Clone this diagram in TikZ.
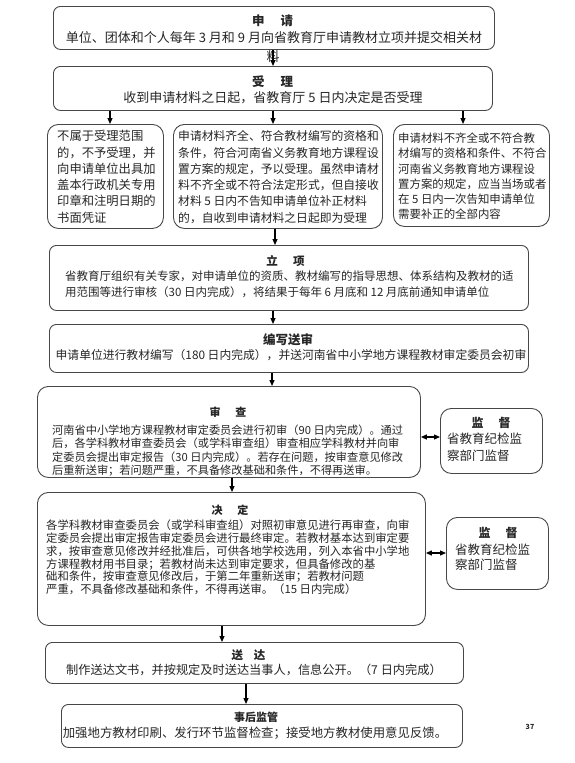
\documentclass[tikz,border=0pt]{standalone}
\usepackage{fontspec}
\setmainfont{Noto Sans CJK SC}
\usetikzlibrary{arrows.meta}
\newcommand\myfs[2]{\fontsize{#1}{#2}\selectfont}
\begin{document}
\begin{tikzpicture}[x=1pt,y=-1pt,
  box/.style={draw=black!72, line width=0.9pt, rounded corners=7pt, anchor=north west, inner sep=0pt},
  rbox/.style={box, rounded corners=11pt},
  txt/.style={inner sep=0pt, text=black!85, align=left, anchor=north west},
  ctxt/.style={inner sep=0pt, text=black!85, align=center, anchor=north},
  ttl/.style={inner sep=0pt, text=black!85, anchor=north},
  arr/.style={line width=1.2pt, -{Triangle[length=6pt,width=5pt]}},
  darr/.style={line width=1.2pt, {Triangle[length=6pt,width=5pt]}-{Triangle[length=6pt,width=5pt]}}]
\fill[white] (0,0) rectangle (575,763);
\useasboundingbox (0,0) rectangle (575,763);

% boxes
\node[box, minimum width=441pt, minimum height=43pt] (b1) at (53,6) {};
\node[box, minimum width=439pt, minimum height=44pt] (b2) at (53,66) {};
\node[rbox, minimum width=116pt, minimum height=104pt] (bA) at (47,124) {};
\node[rbox, minimum width=209pt, minimum height=104pt] (bB) at (173,124) {};
\node[rbox, minimum width=156pt, minimum height=102pt] (bC) at (393,124) {};
\node[box, minimum width=479pt, minimum height=65pt] (b4) at (49,245) {};
\node[box, minimum width=479pt, minimum height=48pt] (b5) at (49,324) {};
\node[rbox, minimum width=383pt, minimum height=91pt] (b6) at (37,386) {};
\node[rbox, minimum width=102pt, minimum height=65pt] (m1) at (440,408) {};
\node[rbox, minimum width=388pt, minimum height=133pt] (b7) at (37,492) {};
\node[rbox, minimum width=102pt, minimum height=72pt] (m2) at (446,517) {};
\node[box, minimum width=418pt, minimum height=41pt] (b8) at (45,642) {};
\node[box, minimum width=401pt, minimum height=43pt] (b9) at (61,704) {};

% texts
\node[ttl, font=\myfs{12.5}{15}\bfseries] (h1) at (272.5,14.3) {申\hspace{16pt}请};
\node[ctxt, font=\myfs{13}{16}] (t1) at (274,31) {单位、团体和个人每年 3 月和 9 月向省教育厅申请教材立项并提交相关材};
\node[ctxt, font=\myfs{13}{16}] (t1b) at (273,50) {料};

\node[ttl, font=\myfs{12.5}{15}\bfseries] (h2) at (272.5,75.3) {受\hspace{16pt}理};
\node[ctxt, font=\myfs{13}{16}] (t2) at (273,91) {收到申请材料之日起，省教育厅 5 日内决定是否受理};

\node[txt, font=\myfs{12.3}{16.25}] (tA) at (57,130.3) {不属于受理范围\\的，不予受理，并\\向申请单位出具加\\盖本行政机关专用\\印章和注明日期的\\书面凭证};
\node[txt, font=\myfs{11.8}{16.25}] (tB) at (178,130.6) {申请材料齐全、符合教材编写的资格和\\条件，符合河南省义务教育地方课程设\\置方案的规定，予以受理。虽然申请材\\料不齐全或不符合法定形式，但自接收\\材料 5 日内不告知申请单位补正材料\\的，自收到申请材料之日起即为受理};
\node[txt, font=\myfs{11.4}{15.2}] (tC) at (398,132.8) {申请材料不齐全或不符合教\\材编写的资格和条件、不符合\\河南省义务教育地方课程设\\置方案的规定，应当当场或者\\在 5 日内一次告知申请单位\\需要补正的全部内容};

\node[ttl, font=\myfs{11.5}{14}\bfseries] (h4) at (285.5,255.7) {立\hspace{15.5pt}项};
\node[txt, font=\myfs{11.5}{16}] (t4) at (65,270.7) {省教育厅组织有关专家，对申请单位的资质、教材编写的指导思想、体系结构及教材的适\\用范围等进行审核（30 日内完成），将结果于每年 6 月底和 12 月底前通知申请单位};

\node[ttl, font=\myfs{12.5}{15}\bfseries] (h5) at (288,333.3) {编写送审};
\node[ctxt, font=\myfs{11.8}{15}] (t5) at (291,349.6) {申请单位进行教材编写（180 日内完成），并送河南省中小学地方课程教材审定委员会初审};

\node[ttl, font=\myfs{11}{14}\bfseries] (h6) at (228,407) {审\hspace{15pt}查};
\node[txt, font=\myfs{11.2}{13.3}] (t6) at (52,424.8) {河南省中小学地方课程教材审定委员会进行初审（90 日内完成）。通过\\后，各学科教材审查委员会（或学科审查组）审查相应学科教材并向审\\定委员会提出审定报告（30 日内完成）。若存在问题，按审查意见修改\\后重新送审；若问题严重，不具备修改基础和条件，不得再送审。};

\node[ttl, font=\myfs{12}{15}\bfseries] (hm1) at (491,417.5) {监\hspace{15pt}督};
\node[txt, font=\myfs{12.5}{16.5}] (tm1) at (447,433.2) {省教育纪检监\\察部门监督};

\node[ttl, font=\myfs{11}{14}\bfseries] (h7) at (230,505) {决\hspace{15pt}定};
\node[txt, font=\myfs{11.35}{12.8}] (t7) at (46,519.8) {各学科教材审查委员会（或学科审查组）对照初审意见进行再审查，向审\\定委员会提出审定报告审定委员会进行最终审定。若教材基本达到审定要\\求，按审查意见修改并经批准后，可供各地学校选用，列入本省中小学地\\方课程教材用书目录；若教材尚未达到审定要求，但具备修改的基\\础和条件，按审查意见修改后，于第二年重新送审；若教材问题\\严重，不具备修改基础和条件，不得再送审。（15 日内完成）};

\node[ttl, font=\myfs{12}{15}\bfseries] (hm2) at (498,527.5) {监\hspace{15pt}督};
\node[txt, font=\myfs{12.5}{15}] (tm2) at (455,544.2) {省教育纪检监\\察部门监督};

\node[ttl, font=\myfs{11.5}{14}\bfseries] (h8) at (248.5,649.7) {送\hspace{11pt}达};
\node[ctxt, font=\myfs{12.2}{15}] (t8) at (254,663.4) {制作送达文书，并按规定及时送达当事人，信息公开。（7 日内完成）};

\node[ttl, font=\myfs{11}{14}\bfseries] (h9) at (256,712) {事后监管};
\node[ctxt, font=\myfs{12.4}{15}] (t9) at (255,726.3) {加强地方教材印刷、发行环节监督检查；接受地方教材使用意见反馈。};

\node[inner sep=0pt, font=\myfs{7}{8}\bfseries, text=black!85] (pg) at (530,727) {37};

% connector x positions
\coordinate (x1) at (273,0);
\coordinate (xa) at (110,0);
\coordinate (xb) at (273,0);
\coordinate (xc) at (463,0);
\coordinate (xd) at (275,0);
\coordinate (xe) at (273,0);
\coordinate (xf) at (272,0);
\coordinate (xg) at (232,0);
\coordinate (xh) at (222,0);
\coordinate (xi) at (246,0);
\coordinate (y1) at (0,437);
\coordinate (y2) at (0,553);

\draw[arr] (b1.south -| x1) -- (b2.north -| x1);
\draw[arr] (b2.south -| xa) -- (bA.north -| xa);
\draw[arr] (b2.south -| xb) -- (bB.north -| xb);
\draw[arr] (b2.south -| xc) -- (bC.north -| xc);
\draw[arr] (bB.south -| xd) -- (b4.north -| xd);
\draw[arr] (b4.south -| xe) -- (b5.north -| xe);
\draw[arr] (b5.south -| xf) -- (b6.north -| xf);
\draw[arr] (b6.south -| xg) -- (b7.north -| xg);
\draw[arr] (b7.south -| xh) -- (b8.north -| xh);
\draw[arr] (b8.south -| xi) -- (b9.north -| xi);
\draw[darr] (b6.east |- y1) -- (m1.west |- y1);
\draw[darr] (b7.east |- y2) -- (m2.west |- y2);
\end{tikzpicture}
\end{document}
